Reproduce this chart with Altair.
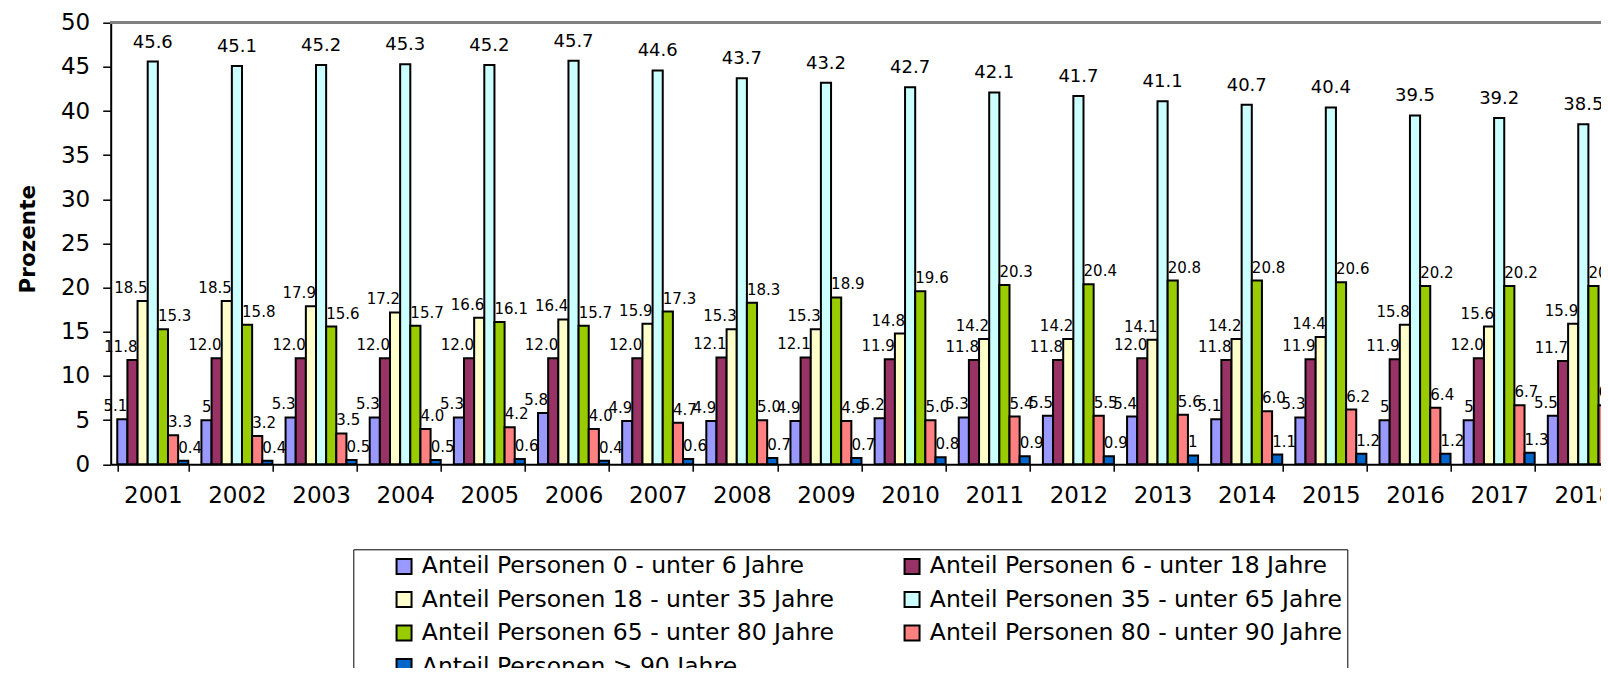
import altair as alt
import pandas as pd

years = [str(y) for y in range(2001, 2019)]

series = [
    "Anteil Personen 0 - unter 6 Jahre",
    "Anteil Personen 6 - unter 18 Jahre",
    "Anteil Personen 18 - unter 35 Jahre",
    "Anteil Personen 35 - unter 65 Jahre",
    "Anteil Personen 65 - unter 80 Jahre",
    "Anteil Personen 80 - unter 90 Jahre",
    "Anteil Personen > 90 Jahre",
]

colors = ["#9999FF", "#993366", "#FFFFCC", "#CCFFFF", "#99CC00", "#FF8080", "#0066CC"]

v_0_6 = ["5.1", "5", "5.3", "5.3", "5.3", "5.8", "4.9", "4.9", "4.9", "5.2", "5.3", "5.5", "5.4", "5.1", "5.3", "5", "5", "5.5"]
v_6_18 = ["11.8", "12.0", "12.0", "12.0", "12.0", "12.0", "12.0", "12.1", "12.1", "11.9", "11.8", "11.8", "12.0", "11.8", "11.9", "11.9", "12.0", "11.7"]
v_18_35 = ["18.5", "18.5", "17.9", "17.2", "16.6", "16.4", "15.9", "15.3", "15.3", "14.8", "14.2", "14.2", "14.1", "14.2", "14.4", "15.8", "15.6", "15.9"]
v_35_65 = ["45.6", "45.1", "45.2", "45.3", "45.2", "45.7", "44.6", "43.7", "43.2", "42.7", "42.1", "41.7", "41.1", "40.7", "40.4", "39.5", "39.2", "38.5"]
v_65_80 = ["15.3", "15.8", "15.6", "15.7", "16.1", "15.7", "17.3", "18.3", "18.9", "19.6", "20.3", "20.4", "20.8", "20.8", "20.6", "20.2", "20.2", "20.2"]
v_80_90 = ["3.3", "3.2", "3.5", "4.0", "4.2", "4.0", "4.7", "5.0", "4.9", "5.0", "5.4", "5.5", "5.6", "6.0", "6.2", "6.4", "6.7", "6.7"]
v_90 = ["0.4", "0.4", "0.5", "0.5", "0.6", "0.4", "0.6", "0.7", "0.7", "0.8", "0.9", "0.9", "1", "1.1", "1.2", "1.2", "1.3", "1.4"]

all_values = [v_0_6, v_6_18, v_18_35, v_35_65, v_65_80, v_80_90, v_90]

rows = []
for si, (name, vals) in enumerate(zip(series, all_values)):
    for year, lab in zip(years, vals):
        rows.append({"year": year, "series": name, "idx": si, "label": lab, "value": float(lab)})
df = pd.DataFrame(rows)

FONT = "DejaVu Sans"
W = 1490.3          # visible plot width
FULL_W = 1514.7     # full band range (last year partly cut off)
H = 441.6

x_enc = alt.X(
    "year:N",
    sort=years,
    scale=alt.Scale(domain=years, range=[0, FULL_W], paddingInner=0.156, paddingOuter=0.078),
    axis=alt.Axis(
        title=None, labelFont=FONT, labelFontSize=23, labelColor="black", labelAngle=0,
        tickBand="extent", tickSize=7, tickColor="black", tickWidth=1.5,
        domainColor="black", domainWidth=2, labelPadding=13, grid=False,
    ),
)
xoff_enc = alt.XOffset("series:N", sort=series,
                       scale=alt.Scale(domain=series, paddingInner=0, paddingOuter=0))
y_enc = alt.Y(
    "value:Q",
    scale=alt.Scale(domain=[0, 50], nice=False),
    axis=alt.Axis(
        title="Prozente", values=list(range(0, 51, 5)), labelFont=FONT, labelFontSize=23,
        labelColor="black", tickSize=8, tickColor="black", tickWidth=1.5,
        domainColor="black", domainWidth=2, labelPadding=13, grid=False,
        titleFont=FONT, titleFontSize=21.5, titleFontWeight="bold", titleColor="black",
        titleX=-76.7, titleY=216, titleBaseline="alphabetic",
    ),
)

base = alt.Chart(df)

top_line = alt.Chart(df).mark_rule(color="#808080", strokeWidth=2).encode(
    y=alt.datum(50), x=alt.value(0), x2=alt.value(W + 20)
)

left_labels = base.transform_filter("datum.idx <= 2").mark_text(
    font=FONT, fontSize=15, color="black", align="right", baseline="alphabetic", dx=5, dy=-8
).encode(x=x_enc, xOffset=xoff_enc, y=y_enc, text="label:N")

mid_labels = base.transform_filter("datum.idx == 3").mark_text(
    font=FONT, fontSize=18, color="black", align="center", baseline="alphabetic", dy=-14
).encode(x=x_enc, xOffset=xoff_enc, y=y_enc, text="label:N")

right_labels = base.transform_filter("datum.idx >= 4").mark_text(
    font=FONT, fontSize=15, color="black", align="left", baseline="alphabetic", dx=-5, dy=-8
).encode(x=x_enc, xOffset=xoff_enc, y=y_enc, text="label:N")

bars = base.mark_bar(stroke="black", strokeWidth=2).encode(
    x=x_enc,
    xOffset=xoff_enc,
    y=y_enc,
    fill=alt.Fill(
        "series:N", sort=series,
        scale=alt.Scale(domain=series, range=colors),
        legend=alt.Legend(
            title=None, orient="none", legendX=242.6, legendY=526.6, columns=2,
            direction="horizontal",
            columnPadding=32, rowPadding=8.5, padding=5, strokeColor="black",
            symbolType="square", symbolSize=225, symbolStrokeColor="black",
            symbolStrokeWidth=2, symbolOffset=34, labelFont=FONT, labelFontSize=23.5,
            labelColor="black", labelLimit=1000, labelOffset=6,
        ),
    ),
)

chart = alt.layer(top_line, left_labels, mid_labels, right_labels, bars).properties(
    width=W,
    height=H,
    padding={"left": 102.7, "top": 14.7, "right": 0, "bottom": 203.7},
    autosize=alt.AutoSizeParams(type="none"),
).configure_view(stroke=None).configure(background="white")

chart.save("out.html", embed_options={"renderer": "svg", "actions": False})
